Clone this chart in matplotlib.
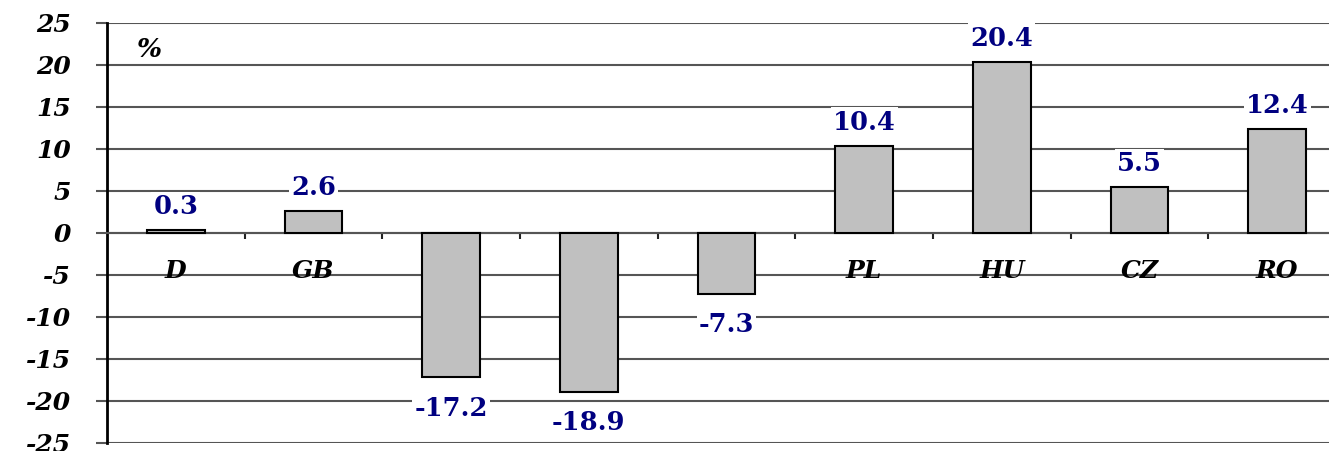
import matplotlib.pyplot as plt
import numpy as np

plt.rcParams['font.family'] = ['DejaVu Serif']
plt.rcParams['axes.unicode_minus'] = False

paises = ['D', 'GB', 'F', 'I', 'E', 'PL', 'HU', 'CZ', 'RO']
valores = [0.3, 2.6, -17.2, -18.9, -7.3, 10.4, 20.4, 5.5, 12.4]
y_ticks = list(range(-25, 30, 5))

fig = plt.figure(figsize=(13.29, 4.51), dpi=100)
ax = fig.add_axes([107 / 1329, 8 / 451, 1239 / 1329, 420 / 451])

x = np.arange(len(paises))
ax.bar(x, valores, width=0.42, color='#c0c0c0', edgecolor='black', linewidth=1.5, zorder=3)

# rejilla horizontal
for v in y_ticks:
    ax.axhline(v, color='#555555', linewidth=1.5, zorder=1)

ax.set_xlim(-0.5, len(paises) - 0.5)
ax.set_ylim(-25, 25)
ax.set_yticks(y_ticks)
ax.set_yticklabels([str(v) for v in y_ticks], fontsize=18, fontweight='bold', fontstyle='italic')
ax.tick_params(axis='y', length=8, width=1.5, color='#555555', pad=18)

# eje x en el cero, marcas entre categorias
ax.spines['bottom'].set_position(('data', 0))
ax.spines['bottom'].set_color('#555555')
ax.spines['bottom'].set_linewidth(1.5)
ax.spines['top'].set_visible(False)
ax.spines['right'].set_visible(False)
ax.spines['left'].set_linewidth(2)
ax.set_xticks(x)
ax.set_xticklabels(paises, fontsize=18, fontweight='bold', fontstyle='italic')
ax.tick_params(axis='x', which='major', length=0, pad=19)
ax.set_xticks(np.arange(0.5, len(paises) - 0.5, 1), minor=True)
ax.tick_params(axis='x', which='minor', length=4.5, width=1.5, color='#222222', direction='out')

# etiquetas de datos
for xi, v in zip(x, valores):
    off = 17 if v >= 0 else -22
    ax.annotate(f'{v:.1f}', (xi, v), xytext=(0, off), textcoords='offset points',
                ha='center', va='center', fontsize=18.5, fontweight='bold', color='#000080',
                bbox=dict(facecolor='white', edgecolor='none', pad=1.5), zorder=4)

ax.text(-0.19, 21.8, '%', fontsize=19, fontweight='bold', fontstyle='italic',
        ha='center', va='center')

plt.savefig('out.png', dpi=100)
